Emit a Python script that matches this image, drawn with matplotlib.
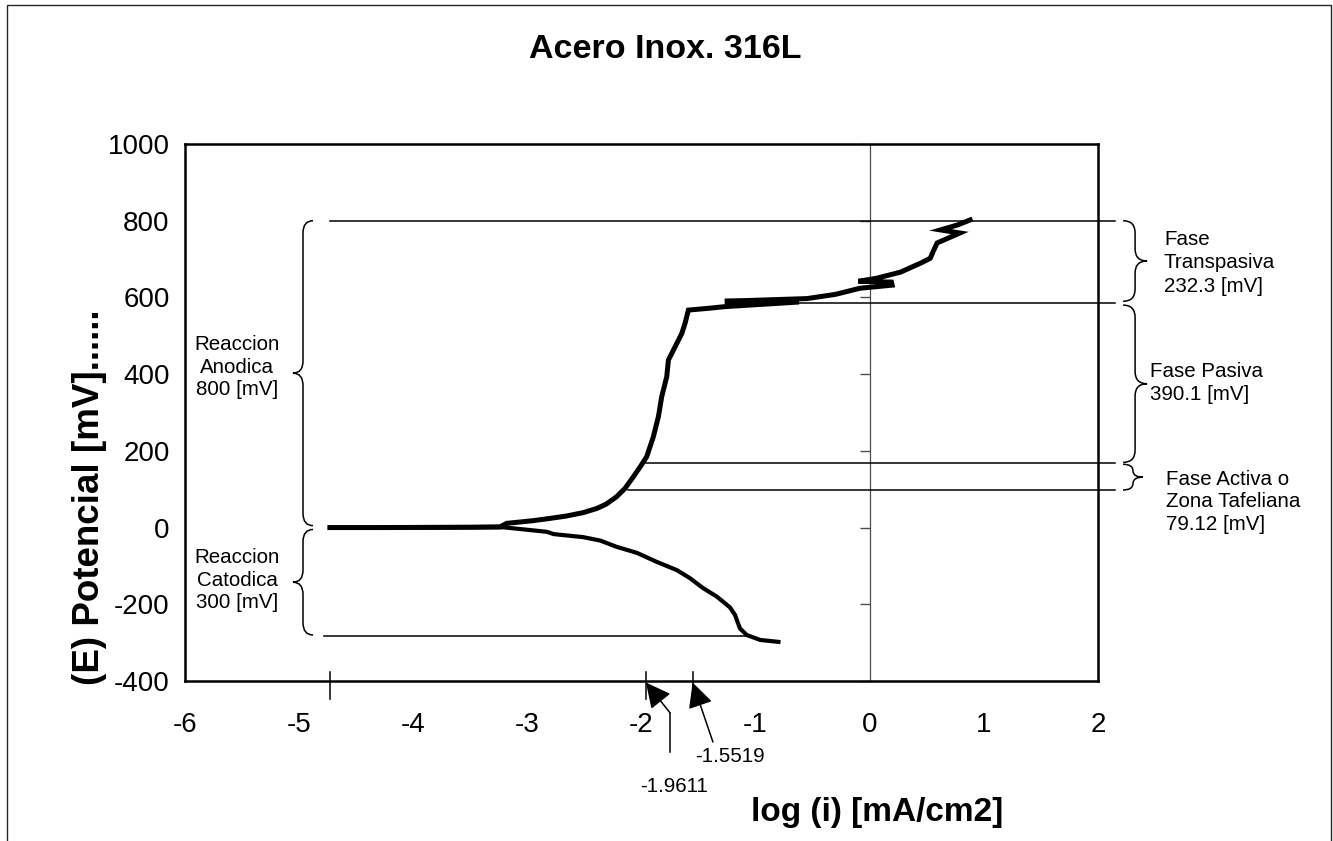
import numpy as np
import matplotlib
matplotlib.use("Agg")
import matplotlib.pyplot as plt
from matplotlib.path import Path
from matplotlib.patches import PathPatch, Rectangle
from matplotlib.markers import TICKLEFT

plt.rcParams['font.family'] = ['Liberation Sans', 'DejaVu Sans']
plt.rcParams['axes.unicode_minus'] = False

# Anodic branch: log(i) [mA/cm2] vs E [mV]
anod_logi = [-4.73, -4.3, -3.9, -3.5, -3.24, -3.18, -2.95, -2.80, -2.66, -2.51,
             -2.39, -2.31, -2.22, -2.145, -2.07, -2.01, -1.954, -1.896, -1.852, -1.823,
             -1.779, -1.764, -1.735, -1.691, -1.647, -1.618, -1.589, -1.40, -1.27, -0.62,
             -1.27, -0.55, -0.30, -0.085, 0.196, 0.19, -0.10, 0.06, 0.27, 0.45,
             0.53, 0.55, 0.59, 0.79, 0.62, 0.77, 0.88]
anod_E = [0, 0, 0.5, 1, 2, 11, 18, 24, 30, 39,
          50, 61, 80, 102, 133, 159, 185, 237, 289, 341,
          393, 437, 454, 480, 506, 533, 567, 572, 576, 588,
          590, 597, 608, 624, 632, 640, 642, 650, 666, 690,
          702, 716, 742, 768, 776, 789, 802]

# Cathodic branch
cat_logi = [-4.73, -3.8, -3.21, -2.83, -2.77, -2.51, -2.36, -2.22, -2.04, -1.87,
            -1.69, -1.575, -1.46, -1.34, -1.225, -1.18, -1.16, -1.137, -1.078, -0.96,
            -0.80]
cat_E = [0, 0, 0.7, -11, -17, -25, -34, -50, -66, -89,
         -111, -132, -158, -180, -208, -228, -245, -263, -280, -293,
         -298]

# phase limits [mV] and marked log(i) values
e_top, e_pas, e_act_hi, e_act_lo, e_cat = 800, 585, 168, 98, -282
logi_start, logi_a, logi_b = -4.73, -1.9611, -1.5519

yticks = np.arange(-400, 1001, 200)
xticks = np.arange(-6, 3, 1)


def brace(ax, x, y0, y1, w, r, lw=1.1):
    """Curly brace with its tip at x; w>0 opens right, w<0 opens left."""
    xm, xe, ym = x + w / 2, x + w, (y0 + y1) / 2
    r = min(r, (y1 - y0) / 4)
    verts = [(xe, y1), (xm, y1), (xm, y1 - r),
             (xm, ym + r), (xm, ym), (x, ym),
             (xm, ym), (xm, ym - r),
             (xm, y0 + r), (xm, y0), (xe, y0)]
    codes = [Path.MOVETO, Path.CURVE3, Path.CURVE3,
             Path.LINETO, Path.CURVE3, Path.CURVE3,
             Path.CURVE3, Path.CURVE3,
             Path.LINETO, Path.CURVE3, Path.CURVE3]
    ax.add_patch(PathPatch(Path(verts, codes), fill=False, lw=lw,
                           ec='black', clip_on=False))


fig = plt.figure(figsize=(13.33, 8.41), dpi=100)
ax = fig.add_axes([185 / 1333, 1 - 681 / 841, 913 / 1333, 537 / 841])

ax.set_xlim(-6, 2)
ax.set_ylim(-400, 1000)
ax.set_xticks(xticks)
ax.set_yticks(yticks)
ax.tick_params(length=0, labelsize=20)
ax.tick_params(axis='x', pad=22)
ax.tick_params(axis='y', pad=11)
for s in ax.spines.values():
    s.set_linewidth(1.8)

# value axis crossing at x=0 with its own ticks
ax.axvline(0, color='0.3', lw=0.9, zorder=1)
ax.plot(np.zeros(len(yticks)), yticks, ls='none', marker=TICKLEFT, ms=7,
        mew=1, color='0.3', clip_on=False)

# curves
ax.plot(anod_logi, anod_E, color='black', lw=3.6, solid_joinstyle='miter', zorder=3)
ax.plot(cat_logi, cat_E, color='black', lw=3.0, zorder=3)

# reference lines for the phases
xr = 2.15
lk = dict(color='black', lw=1.1, clip_on=False, zorder=2)
ax.plot([logi_start, xr], [e_top, e_top], **lk)
ax.plot([-1.2, xr], [e_pas, e_pas], **lk)
ax.plot([-1.97, xr], [e_act_hi, e_act_hi], **lk)
ax.plot([-2.12, xr], [e_act_lo, e_act_lo], **lk)
ax.plot([-4.78, -1.07], [e_cat, e_cat], **lk)

# marks on the x axis
for xv in (logi_start, logi_a, logi_b):
    ax.plot([xv, xv], [-376, -446], **lk)

# braces
brace(ax, -5.054, 5, e_top, 0.176, 32)
brace(ax, -5.054, e_cat + 2, -5, 0.176, 32)
brace(ax, 2.43, e_pas + 5, e_top, -0.21, 32)
brace(ax, 2.43, e_act_hi + 2, e_pas - 5, -0.21, 32)
brace(ax, 2.394, e_act_lo, e_act_hi - 3, -0.175, 32)

fs = 14.8
ax.text(-5.544, 418, 'Reaccion\nAnodica\n800 [mV]', ha='center', va='center',
        fontsize=fs, linespacing=1.25)
ax.text(-5.544, -137, 'Reaccion\nCatodica\n300 [mV]', ha='center', va='center',
        fontsize=fs, linespacing=1.25)
ax.text(2.578, 690, 'Fase\nTranspasiva\n232.3 [mV]', ha='left', va='center',
        fontsize=fs, linespacing=1.3)
ax.text(2.456, 377, 'Fase Pasiva\n390.1 [mV]', ha='left', va='center',
        fontsize=fs, linespacing=1.3)
ax.text(2.596, 67, 'Fase Activa o\nZona Tafeliana\n79.12 [mV]', ha='left',
        va='center', fontsize=fs, linespacing=1.25)

# arrows pointing at the marked currents
ap = dict(arrowstyle='-|>,head_length=0.7,head_width=0.35', color='black',
          lw=1.1, mutation_scale=22, shrinkA=0, shrinkB=0)
ax.plot([-1.75, -1.75], [-585, -483], **lk)
ax.annotate('', xy=(logi_a, -404), xytext=(-1.75, -483),
            arrowprops=ap, annotation_clip=False)
ax.annotate('', xy=(logi_b, -404), xytext=(-1.374, -559),
            arrowprops=ap, annotation_clip=False)
ax.text(-1.229, -598, '%.4f' % logi_b, ha='center', va='center', fontsize=fs)
ax.text(-1.711, -676, '%.4f' % logi_a, ha='center', va='center', fontsize=fs)

fig.text(665 / 1333, 1 - 50 / 841, 'Acero Inox. 316L', ha='center', va='center',
         fontsize=24.5, fontweight='bold')
fig.text(877 / 1333, 1 - 812 / 841, 'log (i) [mA/cm2]', ha='center', va='center',
         fontsize=24, fontweight='bold')
fig.text(90 / 1333, 1 - 497 / 841, '(E) Potencial [mV]......', ha='center',
         va='center', rotation=90, fontsize=26.5, fontweight='bold')

fig.add_artist(Rectangle((7 / 1333, -0.01), 1324 / 1333, 1.01 - 5 / 841,
                         transform=fig.transFigure, fill=False, lw=1, ec='0.15'))

fig.savefig('out.png', dpi=100)
